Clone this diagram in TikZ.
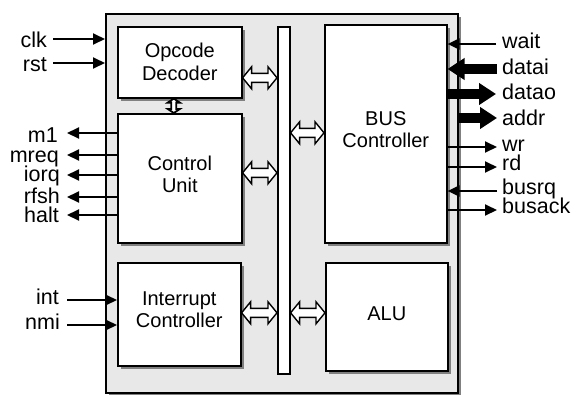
\documentclass[tikz,border=0pt]{standalone}
\usepackage{fontspec}
\setmainfont{Liberation Sans}
\usetikzlibrary{arrows.meta,shadows,calc}
\newcommand\lblfont{\fontsize{21.5}{23}\selectfont}
\newcommand\boxfont{\fontsize{20}{22.5}\selectfont}
% horizontal hollow double arrow: x from #1, x to #2, y from #3
\newcommand\harrow[3]{\draw[hollow] let \p1=#1, \p2=#2, \p3=#3 in
  (\x1,\y3) -- (\x1+9pt,\y3+11pt) -- (\x1+9pt,\y3+4.5pt) -- (\x2-9pt,\y3+4.5pt)
  -- (\x2-9pt,\y3+11pt) -- (\x2,\y3) -- (\x2-9pt,\y3-11pt) -- (\x2-9pt,\y3-4.5pt)
  -- (\x1+9pt,\y3-4.5pt) -- (\x1+9pt,\y3-11pt) -- cycle;}
% vertical hollow double arrow: x from #1, y from #1 (top) and #2 (bottom)
\newcommand\varrow[2]{\draw[hollow, line width=1.8pt] let \p1=#1, \p2=#2 in
  (\x1,\y1) -- (\x1+6pt,\y1-4pt) -- (\x1+2.5pt,\y1-4pt) -- (\x1+2.5pt,\y2+4pt)
  -- (\x1+6pt,\y2+4pt) -- (\x1,\y2) -- (\x1-6pt,\y2+4pt) -- (\x1-2.5pt,\y2+4pt)
  -- (\x1-2.5pt,\y1-4pt) -- (\x1-6pt,\y1-4pt) -- cycle;}
\tikzset{
  shadowed/.style={drop shadow={shadow xshift=3pt, shadow yshift=-3pt, fill=black!50, opacity=1}},
  blk/.style={draw, line width=1.6pt, fill=white, inner sep=0pt, anchor=north west, shadowed},
  boxtext/.style={inner sep=0pt, align=center, font=\boxfont},
  hollow/.style={draw, fill=white, line width=1.4pt, line join=miter},
  lbl/.style={inner sep=0pt, font=\lblfont},
  sig/.style={line width=2pt, -{Triangle[length=12pt,width=11pt]}},
  bigsig/.style={line width=10pt, -{Triangle[length=17pt,width=21pt]}}
}
\begin{document}
\begin{tikzpicture}[x=1pt,y=-1pt]
\useasboundingbox (0,0) rectangle (576,394);
% outer chip
\node[blk, fill=black!9, line width=2.2pt, minimum width=352pt, minimum height=379pt] (outer) at (105,13) {};
% blocks
\node[blk, minimum width=124pt, minimum height=71pt] (op) at (117,26) {};
\node[blk, minimum width=124pt, minimum height=129pt] (cu) at (117,113) {};
\node[blk, minimum width=123pt, minimum height=103pt] (ic) at (117,262) {};
\node[draw, line width=1.6pt, fill=white, inner sep=0pt, anchor=north west, minimum width=12pt, minimum height=347pt] (bar) at (277,26) {};
\node[blk, minimum width=122pt, minimum height=218pt] (bus) at (324,24) {};
\node[blk, minimum width=122pt, minimum height=108pt] (alu) at (325,262) {};
\node[boxtext] (opT) at ([yshift=0.5pt]op.center) {Opcode\\Decoder};
\node[boxtext] (cuT) at ([yshift=4pt]cu.center) {Control\\Unit};
\node[boxtext] (icT) at ([yshift=4.5pt]ic.center) {Interrupt\\Controller};
\node[boxtext] (busT) at ([yshift=4pt]bus.center) {BUS\\Controller};
\node[boxtext] (aluT) at ([yshift=3.5pt]alu.center) {ALU};
% internal hollow arrows
\harrow{(op.east)}{(bar.west)}{([yshift=-15.5pt]op.east)}
\harrow{(cu.east)}{(bar.west)}{([yshift=5.5pt]cu.east)}
\harrow{(ic.east)}{(bar.west)}{([yshift=1.5pt]ic.east)}
\harrow{(bar.east)}{(bus.west)}{([yshift=1pt]bus.west)}
\harrow{(bar.east)}{(alu.west)}{([yshift=4pt]alu.west)}
\varrow{([xshift=-6pt]op.south)}{(cu.north)}
% left inputs
\node[lbl, anchor=base east] (clk) at (47,47) {clk};
\node[lbl, anchor=base east] (rst) at (47,71) {rst};
\coordinate (clkE) at (53,39);
\coordinate (rstE) at (53,63);
\draw[sig] (clkE) -- (clkE -| outer.west);
\draw[sig] (rstE) -- (rstE -| outer.west);
% control outputs
\node[lbl, anchor=base east] (m1) at (58,142) {m1};
\node[lbl, anchor=base east] (mreq) at (59,162) {mreq};
\node[lbl, anchor=base east] (iorq) at (60,181) {iorq};
\node[lbl, anchor=base east] (rfsh) at (60,203) {rfsh};
\node[lbl, anchor=base east] (halt) at (59,222) {halt};
\coordinate (m1E) at (67,133);
\coordinate (mreqE) at (67,155);
\coordinate (iorqE) at (67,175);
\coordinate (rfshE) at (67,197);
\coordinate (haltE) at (67,215);
\foreach \s in {m1E,mreqE,iorqE,rfshE,haltE}
  \draw[sig] (\s -| cu.west) -- (\s);
% interrupts
\node[lbl, anchor=base east] (int) at (59,304) {int};
\node[lbl, anchor=base east] (nmi) at (60,329) {nmi};
\coordinate (intE) at (67,300);
\coordinate (nmiE) at (67,325);
\draw[sig] (intE) -- (intE -| ic.west);
\draw[sig] (nmiE) -- (nmiE -| ic.west);
% bus signals
\node[lbl, anchor=base west] (wait) at (502,48) {wait};
\node[lbl, anchor=base west] (datai) at (502,74) {datai};
\node[lbl, anchor=base west] (datao) at (502,99) {datao};
\node[lbl, anchor=base west] (addr) at (502,125) {addr};
\node[lbl, anchor=base west] (wr) at (502,151) {wr};
\node[lbl, anchor=base west] (rd) at (502,170) {rd};
\node[lbl, anchor=base west] (busrq) at (502,194) {busrq};
\node[lbl, anchor=base west] (busack) at (502,213) {busack};
\coordinate (waitE) at (496,44);
\coordinate (dataiE) at (497,69);
\coordinate (dataoE) at (496,94);
\coordinate (addrE) at (497,118);
\coordinate (wrE) at (497,147);
\coordinate (rdE) at (497,167);
\coordinate (busrqE) at (497,191);
\coordinate (busackE) at (497,210);
\draw[sig] (waitE) -- (waitE -| bus.east);
\draw[bigsig] (dataiE) -- (dataiE -| bus.east);
\draw[bigsig] (dataoE -| bus.east) -- (dataoE);
\draw[bigsig] (addrE -| outer.east) -- (addrE);
\draw[sig] (wrE -| bus.east) -- (wrE);
\draw[sig] (rdE -| bus.east) -- (rdE);
\draw[sig] (busrqE) -- (busrqE -| bus.east);
\draw[sig] (busackE -| bus.east) -- (busackE);
\end{tikzpicture}
\end{document}
